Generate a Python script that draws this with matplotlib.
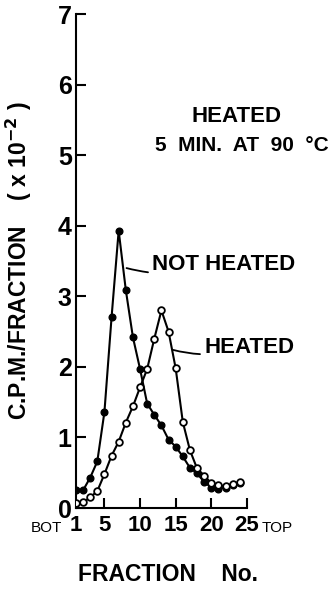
import numpy as np
import matplotlib.pyplot as plt

fractions = list(range(1, 25))
not_heated = [0.25, 0.25, 0.43, 0.66, 1.36, 2.70, 3.93, 3.09, 2.42, 1.97, 1.48, 1.32,
              1.17, 0.97, 0.87, 0.73, 0.57, 0.49, 0.37, 0.29, 0.27, 0.29, 0.33, 0.36]
heated = [0.07, 0.08, 0.15, 0.24, 0.48, 0.74, 0.94, 1.21, 1.44, 1.71, 1.97, 2.40,
          2.80, 2.50, 1.98, 1.22, 0.82, 0.56, 0.46, 0.35, 0.32, 0.31, 0.34, 0.37]
x_ticks = [5, 10, 15, 20, 25]
y_ticks = [0, 1, 2, 3, 4, 5, 6, 7]

plt.rcParams["font.family"] = ["Liberation Sans", "DejaVu Sans"]
plt.rcParams["font.weight"] = "bold"
plt.rcParams["axes.labelweight"] = "bold"

fig = plt.figure(figsize=(3.33, 5.89), dpi=100)
ax = fig.add_axes([0.228, 0.1375, 0.5135, 0.8387])

ax.plot(fractions, not_heated, color="black", lw=1.5, marker="o", ms=4.8,
        mfc="black", mec="black", zorder=3)
ax.plot(fractions, heated, color="black", lw=1.5, marker="o", ms=4.8,
        mfc="white", mec="black", mew=1.3, zorder=3)

ax.set_xlim(1, 25)
ax.set_ylim(0, 7)
ax.spines["top"].set_visible(False)
ax.spines["right"].set_visible(False)
ax.spines["left"].set_linewidth(1.5)
ax.spines["bottom"].set_linewidth(1.5)

ax.set_xticks(x_ticks)
ax.set_yticks(y_ticks)
ax.tick_params(axis="both", direction="in", length=7.5, width=1.5)
ax.tick_params(axis="x", labelsize=16, pad=5)
ax.tick_params(axis="y", labelsize=18, pad=3)
ax.set_xticks([1], minor=True)
ax.set_xticklabels(["1"], minor=True, fontsize=16)
ax.tick_params(axis="x", which="minor", length=0, pad=5)

ax.text(-0.08, -0.041, "BOT", transform=ax.transAxes, ha="right", va="center",
        fontsize=11, fontweight="normal")
ax.text(1.085, -0.041, "TOP", transform=ax.transAxes, ha="left", va="center",
        fontsize=11, fontweight="normal")

ax.set_xlabel("FRACTION    No.", fontsize=16.5)
ax.xaxis.set_label_coords(0.54, -0.112)
ax.set_ylabel("C.P.M./FRACTION    ( x 10$^{-2}$ )", fontsize=16.5, labelpad=17)

ax.text(0.94, 0.793, "HEATED", transform=ax.transAxes, ha="center", va="center", fontsize=16)
ax.text(0.97, 0.733, "5  MIN.  AT  90  °C", transform=ax.transAxes, ha="center",
        va="center", fontsize=15)

ax.annotate("NOT HEATED", xy=(8.1, 3.40), xytext=(11.7, 3.45), fontsize=16,
            va="center", ha="left",
            arrowprops=dict(arrowstyle="-", lw=1.3, color="black",
                            connectionstyle="arc3,rad=-0.15", shrinkA=1, shrinkB=0))
ax.annotate("HEATED", xy=(14.65, 2.24), xytext=(19.0, 2.28), fontsize=16,
            va="center", ha="left",
            arrowprops=dict(arrowstyle="-", lw=1.3, color="black",
                            connectionstyle="arc3,rad=-0.15", shrinkA=1, shrinkB=0))

fig.savefig("out.png", dpi=100)
